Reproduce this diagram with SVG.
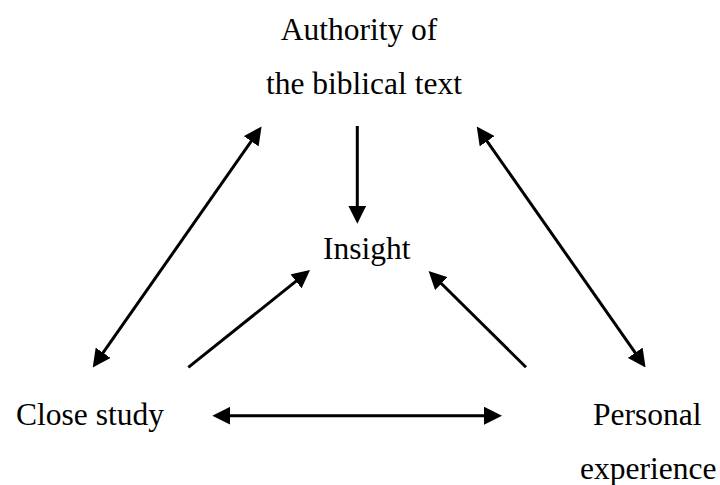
<svg xmlns="http://www.w3.org/2000/svg" width="720" height="485" viewBox="0 0 720 485">
<style>
  .lbl { font-family: "Liberation Serif", "Times New Roman", serif; font-size: 31.5px; fill: #000; }
  .conn { stroke: #000; stroke-width: 3; fill: none; }
</style>
<defs>
  <marker id="ah" markerUnits="userSpaceOnUse" markerWidth="18" markerHeight="18" viewBox="0 0 16 16" refX="8" refY="8" orient="auto-start-reverse">
    <path d="M0,0 L16,8 L0,16 Z" fill="#000"/>
  </marker>
</defs>
<rect width="720" height="485" fill="#fff"/>
<g id="connectors">
  <line class="conn" x1="357.3" y1="126" x2="357.3" y2="214.7" marker-end="url(#ah)"/>
  <line class="conn" x1="256.4" y1="133.9" x2="97.9" y2="360.1" marker-start="url(#ah)" marker-end="url(#ah)"/>
  <line class="conn" x1="481.9" y1="133.9" x2="640.4" y2="360.1" marker-start="url(#ah)" marker-end="url(#ah)"/>
  <line class="conn" x1="188.3" y1="367.3" x2="303" y2="275.7" marker-end="url(#ah)"/>
  <line class="conn" x1="526" y1="367.3" x2="435" y2="277.3" marker-end="url(#ah)"/>
  <line class="conn" x1="221.3" y1="415.7" x2="493" y2="415.7" marker-start="url(#ah)" marker-end="url(#ah)"/>
</g>
<g id="node-authority">
  <text class="lbl" x="280.7" y="39.5">Authority of</text>
  <text class="lbl" x="266" y="94">the biblical text</text>
</g>
<g id="node-insight">
  <text class="lbl" x="323" y="259">Insight</text>
</g>
<g id="node-close-study">
  <text class="lbl" x="16" y="425">Close study</text>
</g>
<g id="node-personal-experience">
  <text class="lbl" x="593" y="425">Personal</text>
  <text class="lbl" x="580" y="479">experience</text>
</g>
</svg>
